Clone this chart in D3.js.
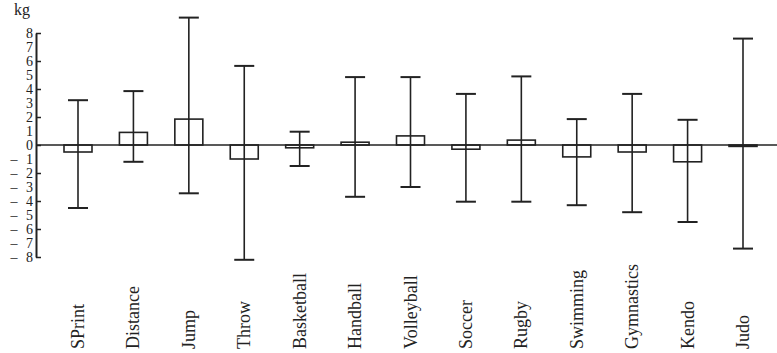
<!DOCTYPE html>
<html><head><meta charset="utf-8">
<script src="https://cdn.jsdelivr.net/npm/d3@7"></script>
<style>body{margin:0;background:#fff}svg{display:block}</style>
</head><body>
<script>
const categories = ["SPrint","Distance","Jump","Throw","Basketball","Handball","Volleyball","Soccer","Rugby","Swimming","Gymnastics","Kendo","Judo"];
const means = [-0.5, 0.9, 1.85, -1.0, -0.2, 0.2, 0.65, -0.3, 0.35, -0.85, -0.5, -1.2, -0.1];
const upper = [3.2, 3.85, 9.1, 5.65, 0.95, 4.85, 4.85, 3.65, 4.9, 1.85, 3.65, 1.8, 7.6];
const lower = [-4.5, -1.2, -3.45, -8.2, -1.5, -3.7, -3.0, -4.05, -4.05, -4.3, -4.8, -5.5, -7.4];
const yLabels = d3.range(-8, 9, 1);
const yTicks = d3.range(-8, 9, 2);
const unit = "kg";

const W = 777, H = 353;
const ink = "#222";
const font = "'Liberation Serif','DejaVu Serif',serif";
const svg = d3.select("body").append("svg").attr("width", W).attr("height", H);

const axisX = 36;
const y = d3.scaleLinear().domain([-8, 8]).range([257, 33]);
const x = d3.scalePoint().domain(categories).range([78, 743]);
const barW = 28, capW = 20;

// y axis: tick marks pointing inward
const gTicks = svg.append("g").attr("transform", `translate(${axisX},0)`)
  .call(d3.axisRight(y).tickValues(yTicks).tickSize(5).tickSizeOuter(0).tickFormat(""));
gTicks.select(".domain").attr("stroke", ink).attr("stroke-width", 2);
gTicks.selectAll(".tick line").attr("stroke", ink).attr("stroke-width", 1.5);

// y labels
const gLab = svg.append("g").attr("transform", `translate(${axisX},0)`)
  .call(d3.axisLeft(y).tickValues(yLabels).tickSize(0).tickPadding(3).tickFormat(d => Math.abs(d)));
gLab.select(".domain").remove();
gLab.selectAll(".tick text").attr("font-family", font).attr("font-size", 14).attr("fill", ink);
gLab.selectAll(".tick").filter(d => d < 0).append("text")
  .attr("x", -22).attr("dy", "0.32em").attr("text-anchor", "middle")
  .attr("font-family", font).attr("font-size", 14).attr("fill", ink).text("\u2013");

svg.append("text").attr("x", 22).attr("y", 15).attr("text-anchor", "middle")
  .attr("font-family", font).attr("font-size", 16).attr("fill", ink).text(unit);

// zero line
svg.append("line").attr("x1", axisX).attr("x2", W).attr("y1", y(0)).attr("y2", y(0))
  .attr("stroke", ink).attr("stroke-width", 1.6);

const data = categories.map((c, i) => ({c, m: means[i], hi: upper[i], lo: lower[i]}));
const g = svg.append("g");
// bars
g.selectAll("rect").data(data).join("rect")
  .attr("x", d => x(d.c) - barW / 2).attr("width", barW)
  .attr("y", d => y(Math.max(0, d.m))).attr("height", d => Math.abs(y(d.m) - y(0)))
  .attr("fill", "none").attr("stroke", ink).attr("stroke-width", 1.6);
// whiskers
g.selectAll("line.v").data(data).join("line").attr("class", "v")
  .attr("x1", d => x(d.c)).attr("x2", d => x(d.c))
  .attr("y1", d => y(d.hi)).attr("y2", d => y(d.lo))
  .attr("stroke", ink).attr("stroke-width", 1.6);
g.selectAll("line.ct").data(data).join("line").attr("class", "ct")
  .attr("x1", d => x(d.c) - capW / 2).attr("x2", d => x(d.c) + capW / 2)
  .attr("y1", d => y(d.hi)).attr("y2", d => y(d.hi))
  .attr("stroke", ink).attr("stroke-width", 2);
g.selectAll("line.cb").data(data).join("line").attr("class", "cb")
  .attr("x1", d => x(d.c) - capW / 2).attr("x2", d => x(d.c) + capW / 2)
  .attr("y1", d => y(d.lo)).attr("y2", d => y(d.lo))
  .attr("stroke", ink).attr("stroke-width", 2);

// category labels
svg.append("g").selectAll("text").data(categories).join("text")
  .attr("transform", d => `translate(${x(d) + 6},349) rotate(-90)`)
  .attr("font-family", font).attr("font-size", 18).attr("fill", ink)
  .text(d => d);
</script>
</body></html>
